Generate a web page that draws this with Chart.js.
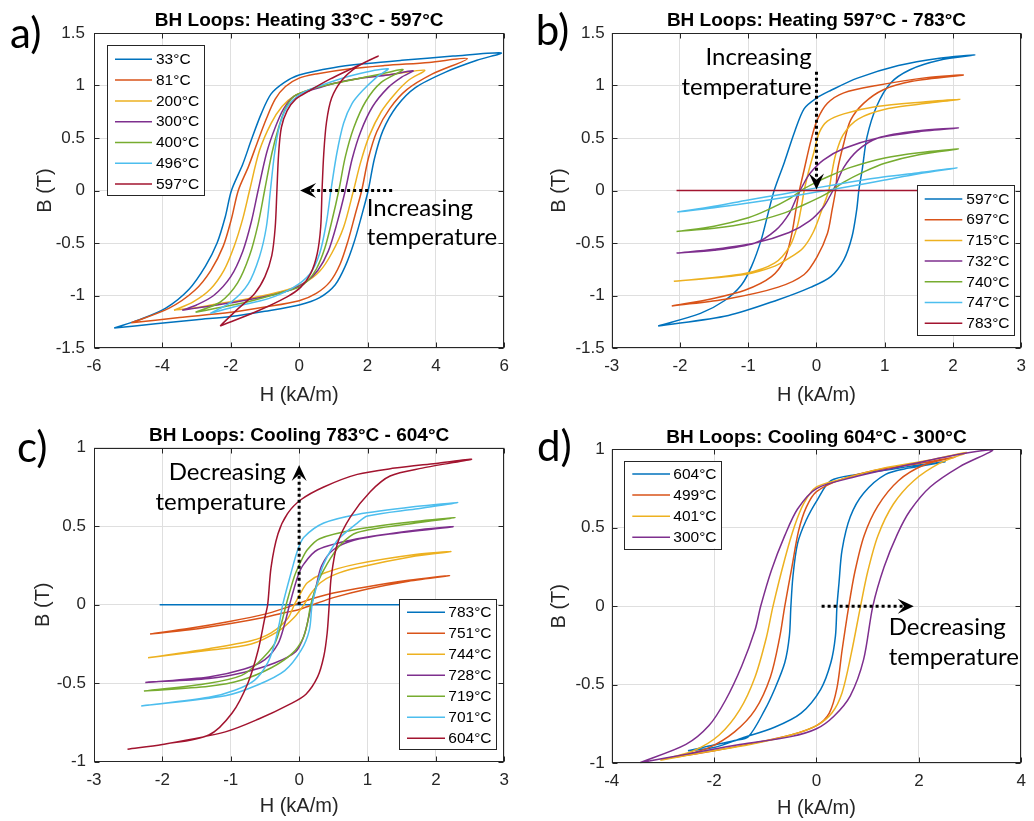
<!DOCTYPE html>
<html>
<head>
<meta charset="utf-8">
<script src="https://cdn.jsdelivr.net/npm/chart.js@4.4.1/dist/chart.umd.min.js"></script>
<style>
  body { margin: 0; background: #fff; }
  .wrap { position: relative; width: 1034px; height: 821px; }
  canvas { position: absolute; }
</style>
</head>
<body>
<div class="wrap">
  <canvas id="chartA" width="517" height="410" style="left:0;top:0"></canvas>
  <canvas id="chartB" width="517" height="410" style="left:517px;top:0"></canvas>
  <canvas id="chartC" width="517" height="411" style="left:0;top:410px"></canvas>
  <canvas id="chartD" width="517" height="411" style="left:517px;top:410px"></canvas>
</div>
<script>
// each loop: [H (kA/m), B (T)] going up the rising branch, then back down the falling one

// a) heating 33 - 597
const tempsA = ['33°C', '81°C', '200°C', '300°C', '400°C', '496°C', '597°C'];
const a33 = [[-5.41,-1.31],[-4.2,-1.27],[-3,-1.23],[-2,-1.2],[-1,-1.15],[0,-1.09],[0.6,-1.02],[1.05,-0.9],[1.35,-0.72],[1.6,-0.5],[1.82,-0.25],[2.02,0],[2.2,0.3],[2.45,0.57],[2.85,0.8],[3.4,0.98],[4.3,1.13],[5.2,1.24],[5.91,1.31],
  [4.5,1.28],[3,1.24],[2,1.21],[1,1.17],[0,1.1],[-0.43,1.03],[-0.82,0.92],[-1.11,0.73],[-1.4,0.48],[-1.65,0.25],[-1.98,0],[-2.16,-0.25],[-2.4,-0.5],[-2.74,-0.72],[-3.22,-0.94],[-3.9,-1.12],[-4.67,-1.23],[-5.41,-1.31]];
const a81 = [[-4.91,-1.26],[-3.5,-1.21],[-2,-1.16],[-1,-1.11],[0,-1.05],[0.5,-0.98],[0.9,-0.87],[1.2,-0.7],[1.43,-0.48],[1.63,-0.24],[1.83,0],[2.02,0.3],[2.27,0.56],[2.65,0.78],[3.15,0.96],[3.9,1.11],[4.92,1.255],
  [3.8,1.22],[2.5,1.19],[1.5,1.16],[0.5,1.11],[0,1.07],[-0.4,0.99],[-0.7,0.87],[-0.95,0.69],[-1.22,0.46],[-1.48,0.23],[-1.78,0],[-1.98,-0.27],[-2.22,-0.53],[-2.58,-0.76],[-3.05,-0.95],[-3.8,-1.12],[-4.91,-1.26]];
const a200 = [[-3.66,-1.14],[-3.1,-1.12],[-2.4,-1.08],[-1.5,-1.03],[-0.5,-0.96],[0.15,-0.88],[0.6,-0.77],[0.95,-0.6],[1.3,-0.35],[1.59,0],[1.8,0.27],[2.05,0.52],[2.4,0.75],[2.8,0.92],[3.2,1.05],[3.67,1.145],
  [2.8,1.11],[2,1.08],[1,1.02],[0.3,0.96],[-0.14,0.9],[-0.5,0.8],[-0.82,0.64],[-1.16,0.38],[-1.45,0],[-1.65,-0.27],[-1.9,-0.53],[-2.2,-0.76],[-2.6,-0.94],[-3.1,-1.06],[-3.66,-1.14]];
const a300 = [[-3.42,-1.14],[-2.8,-1.11],[-2,-1.07],[-1,-1.01],[-0.2,-0.94],[0.2,-0.87],[0.55,-0.76],[0.85,-0.58],[1.1,-0.32],[1.35,0],[1.55,0.3],[1.8,0.56],[2.15,0.8],[2.6,0.98],[3.0,1.08],[3.33,1.14],
  [2.6,1.1],[1.8,1.07],[1,1.02],[0.3,0.95],[-0.14,0.9],[-0.45,0.78],[-0.7,0.6],[-0.95,0.36],[-1.2,0],[-1.4,-0.3],[-1.65,-0.58],[-2.0,-0.82],[-2.5,-1.0],[-3.0,-1.09],[-3.42,-1.14]];
const a400 = [[-3.03,-1.16],[-2.4,-1.12],[-1.5,-1.06],[-0.6,-0.98],[0,-0.92],[0.25,-0.86],[0.5,-0.75],[0.75,-0.55],[0.95,-0.3],[1.16,0],[1.35,0.32],[1.6,0.6],[1.95,0.85],[2.4,1.03],[3.04,1.15],
  [2.4,1.11],[1.5,1.05],[0.5,0.98],[-0.14,0.9],[-0.4,0.78],[-0.6,0.6],[-0.8,0.35],[-1.01,0],[-1.2,-0.32],[-1.45,-0.62],[-1.8,-0.88],[-2.3,-1.06],[-3.03,-1.16]];
const a496 = [[-2.6,-1.17],[-1.8,-1.1],[-0.9,-1.03],[-0.2,-0.93],[0.3,-0.8],[0.6,-0.6],[0.8,-0.3],[0.93,0],[1.1,0.35],[1.3,0.64],[1.55,0.83],[1.85,0.95],[2.27,1.08],[2.6,1.16],
  [1.6,1.1],[0.63,1.0],[0.05,0.92],[-0.34,0.8],[-0.58,0.61],[-0.72,0.35],[-0.84,0],[-0.96,-0.35],[-1.16,-0.63],[-1.49,-0.89],[-1.98,-1.06],[-2.6,-1.17]];
const a597 = [[-2.31,-1.29],[-1.3,-1.16],[-0.34,-1.01],[0.05,-0.92],[0.34,-0.79],[0.53,-0.6],[0.63,-0.35],[0.67,0],[0.72,0.35],[0.8,0.65],[0.95,0.88],[1.25,1.05],[1.7,1.18],[2.31,1.28],
  [1.6,1.17],[0.9,1.06],[0.3,0.95],[-0.1,0.87],[-0.35,0.76],[-0.52,0.6],[-0.6,0.35],[-0.65,0],[-0.7,-0.35],[-0.8,-0.62],[-1.0,-0.82],[-1.3,-0.98],[-1.8,-1.13],[-2.31,-1.29]];

// b) heating 597 - 783
const tempsB = ['597°C', '697°C', '715°C', '732°C', '740°C', '747°C', '783°C'];
const b597 = [[-2.32,-1.29],[-1.29,-1.19],[-0.56,-1.04],[-0.08,-0.92],[0.21,-0.82],[0.4,-0.66],[0.52,-0.44],[0.59,-0.18],[0.62,0],[0.67,0.2],[0.74,0.51],[0.88,0.8],[1.08,1.02],[1.37,1.15],[1.8,1.24],[2.32,1.29],
  [1.8,1.26],[1.2,1.19],[0.6,1.07],[0.2,0.95],[0,0.88],[-0.18,0.78],[-0.32,0.56],[-0.47,0.27],[-0.62,0],[-0.71,-0.22],[-0.81,-0.47],[-0.95,-0.72],[-1.1,-0.9],[-1.35,-1.05],[-1.7,-1.17],[-2.32,-1.29]];
const b697 = [[-2.12,-1.1],[-1.29,-1.03],[-0.56,-0.92],[-0.18,-0.8],[0.01,-0.63],[0.16,-0.41],[0.23,-0.18],[0.28,0],[0.31,0.2],[0.4,0.45],[0.5,0.67],[0.69,0.83],[0.98,0.96],[1.4,1.04],[2.15,1.1],
  [1.61,1.075],[0.88,1.0],[0.4,0.93],[0.16,0.83],[0.01,0.67],[-0.08,0.48],[-0.18,0.2],[-0.25,0],[-0.3,-0.18],[-0.37,-0.44],[-0.47,-0.66],[-0.66,-0.82],[-1.05,-0.95],[-1.53,-1.03],[-2.12,-1.1]];
const b715 = [[-2.09,-0.865],[-1.05,-0.8],[-0.61,-0.72],[-0.39,-0.64],[-0.2,-0.55],[-0.05,-0.4],[0.07,-0.2],[0.18,0],[0.22,0.15],[0.28,0.34],[0.39,0.53],[0.61,0.68],[1.05,0.78],[1.61,0.83],[2.1,0.87],
  [1.6,0.845],[0.88,0.8],[0.4,0.73],[0.16,0.66],[0.04,0.55],[-0.04,0.36],[-0.12,0.17],[-0.18,0],[-0.22,-0.15],[-0.28,-0.34],[-0.39,-0.53],[-0.61,-0.69],[-1.05,-0.79],[-2.09,-0.865]];
const b732 = [[-2.05,-0.595],[-1.5,-0.56],[-0.9,-0.5],[-0.4,-0.4],[-0.1,-0.29],[0.1,-0.16],[0.2,-0.05],[0.28,0.05],[0.4,0.22],[0.6,0.38],[0.9,0.5],[1.5,0.57],[2.08,0.595],
  [1.5,0.56],[0.9,0.5],[0.4,0.4],[0.1,0.29],[-0.1,0.16],[-0.2,0.05],[-0.28,-0.05],[-0.4,-0.22],[-0.6,-0.38],[-0.9,-0.5],[-1.5,-0.57],[-2.05,-0.595]];
const b740 = [[-2.05,-0.39],[-1.5,-0.36],[-1.0,-0.31],[-0.5,-0.22],[-0.2,-0.14],[0,-0.08],[0.2,-0.01],[0.4,0.08],[0.7,0.18],[1.0,0.26],[1.5,0.34],[2.08,0.395],
  [1.5,0.36],[1.0,0.31],[0.5,0.22],[0.2,0.14],[0,0.08],[-0.2,0.01],[-0.4,-0.08],[-0.7,-0.18],[-1.0,-0.26],[-1.5,-0.34],[-2.05,-0.39]];
const b747 = [[-2.04,-0.205],[-1.5,-0.165],[-1.0,-0.12],[-0.5,-0.07],[0,-0.015],[0.5,0.04],[1.0,0.1],[1.5,0.16],[2.06,0.215],
  [1.5,0.17],[1.0,0.13],[0.5,0.08],[0,0.025],[-0.5,-0.035],[-1.0,-0.09],[-1.5,-0.15],[-2.04,-0.205]];
const b783 = [[-2.05,0],[0,0],[2.07,0]];

// c) cooling 783 - 604
const tempsC = ['783°C', '751°C', '744°C', '728°C', '719°C', '701°C', '604°C'];
const c783 = [[-2.04,0],[0,0],[2.2,0]];
const c751 = [[-2.18,-0.186],[-1.6,-0.16],[-1.0,-0.12],[-0.5,-0.08],[-0.2,-0.05],[0,-0.03],[0.2,0.0],[0.5,0.045],[1.0,0.1],[1.6,0.15],[2.2,0.185],
  [1.6,0.155],[1.0,0.115],[0.5,0.075],[0.2,0.04],[0,0.01],[-0.2,-0.02],[-0.5,-0.06],[-1.0,-0.105],[-1.6,-0.15],[-2.18,-0.186]];
const c744 = [[-2.21,-0.338],[-1.32,-0.29],[-0.7,-0.25],[-0.31,-0.17],[-0.07,-0.08],[0.07,0],[0.17,0.07],[0.31,0.14],[0.51,0.19],[0.85,0.235],[1.7,0.31],[2.22,0.338],
  [1.7,0.32],[0.85,0.26],[0.36,0.2],[0.12,0.14],[0.03,0.08],[-0.07,0],[-0.17,-0.09],[-0.41,-0.18],[-0.7,-0.23],[-1.32,-0.28],[-2.21,-0.338]];
const c728 = [[-2.25,-0.495],[-1.32,-0.47],[-0.8,-0.43],[-0.35,-0.37],[-0.05,-0.3],[0.07,-0.2],[0.14,-0.08],[0.18,0],[0.25,0.12],[0.33,0.25],[0.5,0.35],[0.8,0.41],[1.32,0.45],[2.25,0.497],
  [1.7,0.475],[0.85,0.42],[0.27,0.35],[0.07,0.26],[-0.02,0.18],[-0.14,0],[-0.21,-0.12],[-0.31,-0.25],[-0.5,-0.35],[-0.8,-0.41],[-1.32,-0.46],[-2.25,-0.495]];
const c719 = [[-2.27,-0.55],[-1.32,-0.52],[-0.84,-0.48],[-0.4,-0.4],[-0.1,-0.31],[0.05,-0.22],[0.12,-0.12],[0.17,0],[0.27,0.14],[0.41,0.26],[0.6,0.38],[0.85,0.46],[1.7,0.52],[2.28,0.554],
  [1.7,0.53],[0.85,0.48],[0.3,0.42],[0.12,0.35],[0.03,0.28],[-0.07,0.18],[-0.19,0],[-0.26,-0.12],[-0.36,-0.25],[-0.6,-0.37],[-0.84,-0.45],[-1.32,-0.5],[-2.27,-0.55]];
const c701 = [[-2.31,-0.645],[-1.08,-0.58],[-0.6,-0.51],[-0.21,-0.42],[0.03,-0.29],[0.15,-0.16],[0.19,0],[0.27,0.14],[0.36,0.26],[0.56,0.41],[0.85,0.52],[1.0,0.565],[1.7,0.61],[2.32,0.65],
  [1.7,0.625],[0.85,0.575],[0.36,0.52],[0.07,0.43],[-0.02,0.35],[-0.12,0.2],[-0.24,0],[-0.29,-0.12],[-0.36,-0.25],[-0.46,-0.37],[-0.65,-0.48],[-0.94,-0.545],[-1.32,-0.59],[-2.31,-0.645]];
const c604 = [[-2.51,-0.92],[-2.0,-0.89],[-1.08,-0.81],[-0.6,-0.73],[-0.12,-0.63],[0.1,-0.57],[0.27,-0.46],[0.36,-0.33],[0.41,-0.18],[0.44,0],[0.47,0.18],[0.56,0.39],[0.75,0.56],[1.04,0.72],[1.33,0.82],[1.8,0.87],[2.52,0.926],
  [2.0,0.9],[1.4,0.87],[0.85,0.83],[0.36,0.75],[0.03,0.67],[-0.17,0.58],[-0.31,0.45],[-0.41,0.24],[-0.46,0],[-0.5,-0.08],[-0.6,-0.29],[-0.75,-0.5],[-0.98,-0.69],[-1.32,-0.83],[-2.0,-0.89],[-2.51,-0.92]];

// d) cooling 604 - 300
const tempsD = ['604°C', '499°C', '401°C', '300°C'];
const d604 = [[-2.51,-0.92],[-2.0,-0.9],[-1.46,-0.84],[-0.82,-0.77],[-0.3,-0.68],[0.08,-0.53],[0.28,-0.36],[0.37,-0.19],[0.4,0],[0.44,0.15],[0.5,0.36],[0.66,0.57],[0.92,0.72],[1.35,0.84],[1.8,0.88],[2.51,0.92],
  [2.0,0.9],[1.4,0.87],[0.8,0.84],[0.28,0.8],[0.02,0.68],[-0.2,0.55],[-0.37,0.4],[-0.46,0.19],[-0.5,0],[-0.53,-0.19],[-0.62,-0.36],[-0.82,-0.53],[-1.01,-0.66],[-1.33,-0.83],[-1.6,-0.855],[-2.1,-0.89],[-2.51,-0.92]];
const d499 = [[-2.73,-0.96],[-2.0,-0.92],[-1.2,-0.87],[-0.5,-0.82],[0,-0.76],[0.25,-0.68],[0.4,-0.52],[0.5,-0.28],[0.63,0],[0.75,0.22],[0.93,0.45],[1.2,0.64],[1.6,0.8],[2.1,0.9],[2.7,0.95],
  [2.0,0.91],[1.2,0.87],[0.5,0.81],[0,0.73],[-0.2,0.63],[-0.35,0.48],[-0.48,0.25],[-0.62,0],[-0.72,-0.2],[-0.9,-0.45],[-1.2,-0.66],[-1.6,-0.8],[-2.1,-0.9],[-2.73,-0.96]];
const d401 = [[-3.05,-0.98],[-2.2,-0.93],[-1.3,-0.88],[-0.5,-0.82],[0,-0.76],[0.3,-0.68],[0.5,-0.55],[0.68,-0.3],[0.86,0],[1.0,0.22],[1.2,0.45],[1.5,0.65],[1.9,0.8],[2.4,0.91],[2.93,0.98],
  [2.2,0.93],[1.3,0.88],[0.5,0.81],[0,0.76],[-0.24,0.66],[-0.43,0.51],[-0.62,0.3],[-0.85,0],[-0.98,-0.2],[-1.2,-0.45],[-1.5,-0.66],[-1.9,-0.82],[-2.4,-0.92],[-3.05,-0.98]];
const d300 = [[-3.45,-0.996],[-2.5,-0.94],[-1.5,-0.88],[-0.5,-0.83],[0,-0.78],[0.34,-0.7],[0.66,-0.57],[0.92,-0.34],[1.1,0],[1.32,0.25],[1.58,0.46],[1.83,0.61],[2.22,0.76],[2.8,0.89],[3.44,0.996],
  [2.5,0.95],[1.5,0.88],[0.7,0.82],[0,0.75],[-0.37,0.62],[-0.62,0.45],[-0.88,0.23],[-1.09,0],[-1.2,-0.15],[-1.46,-0.38],[-1.78,-0.6],[-2.1,-0.76],[-2.55,-0.88],[-3.45,-0.996]];

const matlab = ['#0072BD', '#D95319', '#EDB120', '#7E2F8E', '#77AC30', '#4DBEEE', '#A2142F'];
const axisColor = '#262626';
const gridColor = '#dfdfdf';
const sans = "'Liberation Sans', Arial, sans-serif";
const note = "Lato, 'Noto Sans', sans-serif";

function loopSets(loops, temps) {
  return loops.map((pts, i) => ({
    label: temps[i],
    data: pts.map(([h, b]) => ({ x: h, y: b })),
    showLine: true,
    borderColor: matlab[i],
    borderWidth: 1.5,
    pointRadius: 0,
    tension: 0.3,
    fill: false,
    order: loops.length - i
  }));
}

function fmt(v) {
  return String(Math.round(v * 10) / 10);
}

function drawArrow(ctx, x1, y1, x2, y2) {
  const ang = Math.atan2(y2 - y1, x2 - x1);
  const head = 16;
  ctx.strokeStyle = '#000';
  ctx.fillStyle = '#000';
  ctx.lineWidth = 3;
  ctx.setLineDash([3, 3]);
  ctx.beginPath();
  ctx.moveTo(x1, y1);
  ctx.lineTo(x2 - head * 0.6 * Math.cos(ang), y2 - head * 0.6 * Math.sin(ang));
  ctx.stroke();
  ctx.setLineDash([]);
  ctx.save();
  ctx.translate(x2, y2);
  ctx.rotate(ang);
  ctx.beginPath();
  ctx.moveTo(0, 0);
  ctx.lineTo(-head, -7.5);
  ctx.lineTo(-head * 0.6, 0);
  ctx.lineTo(-head, 7.5);
  ctx.closePath();
  ctx.fill();
  ctx.restore();
}

const panelDecor = {
  id: 'panelDecor',
  afterDatasetsDraw(chart, args, o) {
    const { ctx, chartArea: ca, scales: { x, y } } = chart;
    ctx.save();

    // box and inward ticks
    const L = Math.round(ca.left) + 0.5, R = Math.round(ca.right) - 0.5;
    const T = Math.round(ca.top) + 0.5, B = Math.round(ca.bottom) - 0.5;
    ctx.strokeStyle = axisColor;
    ctx.lineWidth = 1;
    ctx.strokeRect(L, T, R - L, B - T);
    ctx.beginPath();
    x.ticks.forEach(t => {
      const px = Math.round(x.getPixelForValue(t.value)) + 0.5;
      ctx.moveTo(px, B); ctx.lineTo(px, B - 5);
      ctx.moveTo(px, T); ctx.lineTo(px, T + 5);
    });
    y.ticks.forEach(t => {
      const py = Math.round(y.getPixelForValue(t.value)) + 0.5;
      ctx.moveTo(L, py); ctx.lineTo(L + 5, py);
      ctx.moveTo(R, py); ctx.lineTo(R - 5, py);
    });
    ctx.stroke();

    // title
    ctx.fillStyle = '#000';
    ctx.font = 'bold 19px ' + sans;
    ctx.textAlign = 'center';
    ctx.textBaseline = 'middle';
    ctx.fillText(o.title, (ca.left + ca.right) / 2, ca.top - 12);

    // panel letter
    ctx.font = '42px ' + note;
    ctx.textAlign = 'left';
    ctx.fillText(o.letter.text, o.letter.x, o.letter.y);

    // arrow and its note
    drawArrow(ctx, x.getPixelForValue(o.arrow.from[0]), y.getPixelForValue(o.arrow.from[1]),
      x.getPixelForValue(o.arrow.to[0]), y.getPixelForValue(o.arrow.to[1]));
    ctx.fillStyle = '#000';
    ctx.font = '24px ' + note;
    ctx.textAlign = o.text.align;
    ctx.textBaseline = 'middle';
    const tx = x.getPixelForValue(o.text.at[0]);
    const ty = y.getPixelForValue(o.text.at[1]);
    o.text.lines.forEach((s, i) => ctx.fillText(s, tx, ty + i * o.text.gap));

    // legend
    const lg = o.legend;
    ctx.fillStyle = '#fff';
    ctx.fillRect(lg.x, lg.y, lg.w, lg.h);
    ctx.strokeStyle = axisColor;
    ctx.lineWidth = 1;
    ctx.strokeRect(Math.round(lg.x) + 0.5, Math.round(lg.y) + 0.5, Math.round(lg.w), Math.round(lg.h));
    ctx.font = '15.5px ' + sans;
    ctx.textAlign = 'left';
    chart.data.datasets.forEach((ds, i) => {
      const ry = lg.row0 + i * lg.dy;
      ctx.strokeStyle = ds.borderColor;
      ctx.lineWidth = 1.5;
      ctx.beginPath();
      ctx.moveTo(lg.line[0], ry);
      ctx.lineTo(lg.line[1], ry);
      ctx.stroke();
      ctx.fillStyle = '#000';
      ctx.fillText(ds.label, lg.textX, ry + 0.5);
    });
    ctx.restore();
  }
};

function axes(xr, yr, fit) {
  const tickFont = { family: sans, size: 17 };
  const titleFont = { family: sans, size: 20 };
  return {
    x: {
      type: 'linear', min: xr[0], max: xr[1],
      ticks: { stepSize: xr[2], padding: 8, color: axisColor, font: tickFont, callback: fmt },
      grid: { color: gridColor, drawTicks: false },
      border: { display: false },
      title: { display: true, text: 'H (kA/m)', color: axisColor, font: titleFont, padding: { top: 0, bottom: fit.xTitlePad } },
      afterFit: s => { s.height = fit.xHeight; }
    },
    y: {
      type: 'linear', min: yr[0], max: yr[1],
      ticks: { stepSize: yr[2], padding: fit.yTickPad, color: axisColor, font: tickFont, callback: fmt },
      grid: { color: gridColor, drawTicks: false },
      border: { display: false },
      title: { display: true, text: 'B (T)', color: axisColor, font: titleFont, padding: { top: fit.yTitlePad, bottom: 0 } },
      afterFit: s => { s.width = fit.yWidth; }
    }
  };
}

function makeChart(id, loops, temps, xr, yr, fit, decor) {
  return new Chart(document.getElementById(id), {
    type: 'scatter',
    data: { datasets: loopSets(loops, temps) },
    options: {
      responsive: false,
      animation: false,
      layout: { padding: { left: 0, right: 8, top: fit.top, bottom: 0 } },
      plugins: { legend: { display: false }, tooltip: { enabled: false }, panelDecor: decor },
      scales: axes(xr, yr, fit)
    },
    plugins: [panelDecor]
  });
}

const chartA = makeChart('chartA', [a33, a81, a200, a300, a400, a496, a597], tempsA,
  [-6, 6, 2], [-1.5, 1.5, 0.5],
  { top: 33, xHeight: 62, xTitlePad: 3, yWidth: 94, yTickPad: 9, yTitlePad: 33 },
  {
    title: 'BH Loops: Heating 33°C - 597°C',
    letter: { text: 'a)', x: 10, y: 34 },
    arrow: { from: [2.72, 0], to: [0.03, 0] },
    text: { at: [1.98, -0.167], lines: ['Increasing', 'temperature'], align: 'left', gap: 29 },
    legend: { x: 107, y: 45, w: 97, h: 150, row0: 59.3, dy: 20.8, line: [115, 152], textX: 156 }
  });

const chartB = makeChart('chartB', [b597, b697, b715, b732, b740, b747, b783], tempsB,
  [-3, 3, 1], [-1.5, 1.5, 0.5],
  { top: 33, xHeight: 62, xTitlePad: 3, yWidth: 94.7, yTickPad: 7, yTitlePad: 30 },
  {
    title: 'BH Loops: Heating 597°C - 783°C',
    letter: { text: 'b)', x: 18.7, y: 31 },
    arrow: { from: [0, 1.13], to: [0, 0.01] },
    text: { at: [-0.07, 1.265], lines: ['Increasing', 'temperature'], align: 'right', gap: 30 },
    legend: { x: 400.3, y: 185, w: 96.7, h: 150, row0: 199, dy: 20.7, line: [407.7, 445.3], textX: 449.3 }
  });

const chartC = makeChart('chartC', [c783, c751, c744, c728, c719, c701, c604], tempsC,
  [-3, 3, 1], [-1, 1, 0.5],
  { top: 37.7, xHeight: 59.3, xTitlePad: 2.3, yWidth: 94, yTickPad: 8, yTitlePad: 31 },
  {
    title: 'BH Loops: Cooling 783°C - 604°C',
    letter: { text: 'c)', x: 17, y: 38.5 },
    arrow: { from: [0, 0], to: [0, 0.89] },
    text: { at: [-0.195, 0.845], lines: ['Decreasing', 'temperature'], align: 'right', gap: 30 },
    legend: { x: 399.3, y: 189, w: 97.4, h: 150, row0: 202.3, dy: 21, line: [407, 445], textX: 448.3 }
  });

const chartD = makeChart('chartD', [d604, d499, d401, d300], tempsD,
  [-4, 4, 2], [-1, 1, 0.5],
  { top: 39.3, xHeight: 57.7, xTitlePad: 1, yWidth: 94.7, yTickPad: 7, yTitlePad: 30 },
  {
    title: 'BH Loops: Cooling 604°C - 300°C',
    letter: { text: 'd)', x: 20, y: 37 },
    arrow: { from: [0.1, 0], to: [1.9, 0] },
    text: { at: [1.41, -0.132], lines: ['Decreasing', 'temperature'], align: 'left', gap: 30 },
    legend: { x: 107, y: 50.7, w: 97.3, h: 87.6, row0: 64, dy: 21.1, line: [115.3, 153], textX: 156.3 }
  });
</script>
</body>
</html>
